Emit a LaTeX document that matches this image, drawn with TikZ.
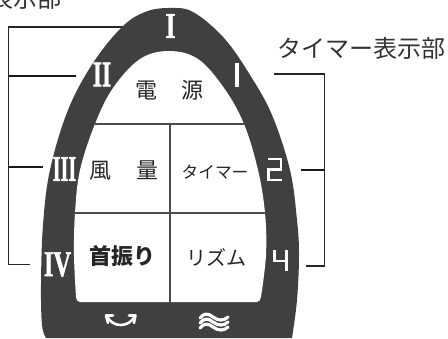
\documentclass[tikz,border=0pt]{standalone}
\usepackage{fontspec}
\setmainfont{Liberation Serif}
\newfontfamily\romfont[BoldFeatures={FakeBold=1.6}]{Liberation Serif}
\newfontfamily\jp{Noto Sans CJK JP}
\tikzset{
  lab/.style={font=\jp\fontsize{16.5}{16.5}\selectfont,text=black!85,inner sep=0pt},
  callout/.style={font=\jp\fontsize{18}{18}\selectfont,text=black!80,inner sep=0pt},
  roman/.style={font=\romfont\bfseries\fontsize{27}{27}\selectfont,text=white,inner sep=0pt},
  bracket/.style={draw=black!85,line width=1.2pt},
  tick/.style={draw=black!90,line width=2pt},
  divider/.style={draw=black!70,line width=1pt},
  seg/.style={draw=white,line width=2.2pt,line cap=butt,line join=miter},
  icon/.style={draw=white,line width=1.9pt,line cap=round,line join=round},
}
\definecolor{body}{gray}{0.25}
\begin{document}
\begin{tikzpicture}[x=0.75pt,y=-0.75pt]
\useasboundingbox (0,0) rectangle (448,338);
\clip (0,0) rectangle (448,338);
% brackets
\coordinate (lt) at (125,27); \coordinate (lc) at (8.5,27); \coordinate (lb) at (8.5,264.5); \coordinate (lbe) at (30,264.5);
\coordinate (rt) at (274,74); \coordinate (rc) at (324.5,74); \coordinate (rb) at (324.5,266); \coordinate (rbe) at (306,266);
\draw[bracket] (lt) -- (lc) -- (lb) -- (lbe);
\draw[bracket] (rt) -- (rc) -- (rb) -- (rbe);
\coordinate (l2) at (8.5,76); \coordinate (l2e) at (76,76);
\coordinate (l3) at (8.5,167); \coordinate (l3e) at (43,167);
\coordinate (r2) at (324.5,170); \coordinate (r2e) at (301,170);
\draw[tick] (l2) -- (l2e);
\draw[tick] (l3) -- (l3e);
\draw[tick] (r2) -- (r2e);
% body
\fill[body] plot[smooth,tension=0.6] coordinates {(46,338) (42,325) (41,285) (43,225) (50,170) (68,110) (93,63) (122,27) (145,12) (169,8) (193,12) (224,38) (250,75) (272,115) (290,170) (297,220) (299,255) (297,300) (292,338)} -- cycle;
\fill[white] (80,302) .. controls (77,302) and (76.5,300) .. (76,297)
  -- plot[smooth,tension=0.6] coordinates {(76,297) (74,255) (75,213) (80,170) (95,124) (113,88) (140,59) (169,51) (198,59) (224,88) (244,124) (258,170) (265,213) (266,255) (261,297)}
  .. controls (260.5,300) and (259,302) .. (257,302) -- cycle;
\coordinate (d1) at (95,124); \coordinate (d2) at (244,124);
\coordinate (d3) at (75,213); \coordinate (d4) at (265,213);
\coordinate (d5) at (170,124); \coordinate (d6) at (170,302);
\draw[divider] (d1) -- (d2);
\draw[divider] (d3) -- (d4);
\draw[divider] (d5) -- (d6);
% labels
\node[lab] (power) at (169.5,90.5) {電\hspace{1.13em}源};
\node[lab] (wind) at (124,171) {風\hspace{1.13em}量};
\node[lab,font=\jp\fontsize{12.5}{12.5}\selectfont] (timer) at (215,172) {タイマー};
\node[lab,font=\jp\bfseries\fontsize{16.5}{16.5}\selectfont] (swing) at (122.5,256.5) {首振り};
\node[lab,font=\jp\fontsize{15}{15}\selectfont] (rhythm) at (216,257) {リズム};
\node[callout] (tlabel) at (361.5,48) {タイマー表示部};
\node[callout] (slabel) at (25,-2) {表示部};
% roman
\node[roman,xscale=0.72] (r1) at (170.5,26) {I};
\node[roman,xscale=0.66] (r2n) at (102,74.5) {II};
\node[roman,xscale=0.56] (r3n) at (64.5,169) {III};
\node[roman,xscale=0.68] (r4n) at (57.5,264.5) {IV};
% segment digits
\coordinate (s1a) at (236.8,63); \coordinate (s1b) at (236.8,87);
\draw[seg,line width=2.7pt] (s1a) -- (s1b);
\draw[seg] (268,159) -- (281,159) -- (281,169.5) -- (268.5,169.5) -- (268.5,180) -- (282,180);
\draw[seg] (274.5,250) -- (274.5,261) -- (286.5,261);
\draw[seg] (286.5,250) -- (286.5,271);
% swing icon
\draw[icon] (113,315.5) -- (106,315.5) -- (108,323);
\draw[icon] (129,315.5) -- (135.5,315.5) -- (134,323);
\draw[icon] (107,316) .. controls (112,328) and (129,328) .. (135,316);
% wind icon
\draw[icon,line width=2.4pt] (200,318) .. controls (204,313) and (208,313) .. (213,317) .. controls (218,321) and (224,321) .. (228,317);
\draw[icon,line width=2.4pt] (200,323) .. controls (204,318) and (208,318) .. (213,322) .. controls (218,326) and (224,326) .. (228,322);
\draw[icon,line width=2.4pt] (200,328) .. controls (204,323) and (208,323) .. (213,327) .. controls (218,331) and (224,331) .. (228,327);
\end{tikzpicture}
\end{document}
